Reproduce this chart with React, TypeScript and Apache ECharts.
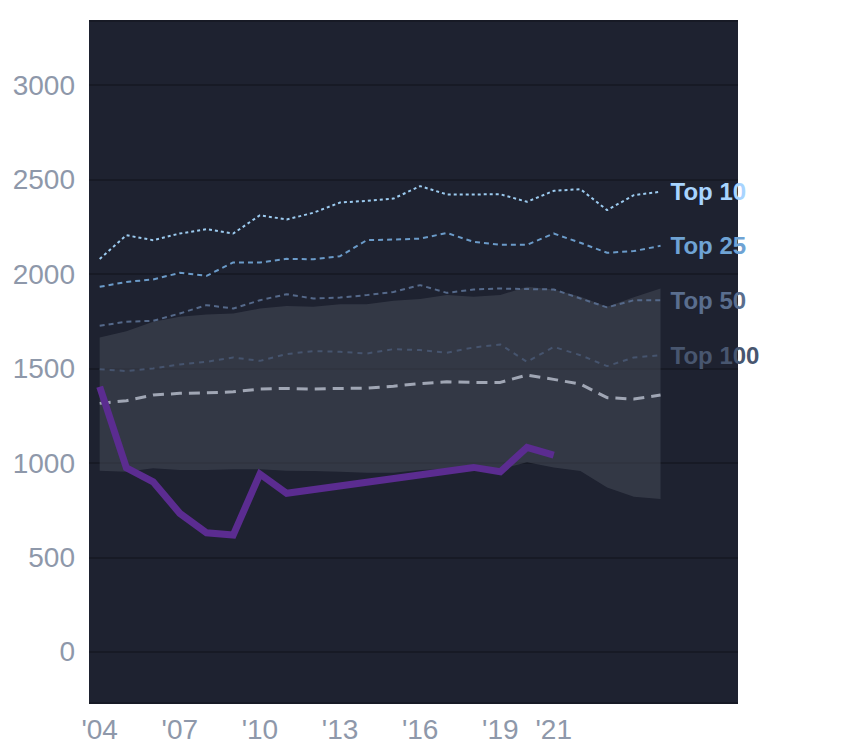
import React, { useEffect, useRef } from "react";
import * as echarts from "echarts";

const years = [2004, 2005, 2006, 2007, 2008, 2009, 2010, 2011, 2012, 2013, 2014, 2015, 2016, 2017, 2018, 2019, 2020, 2021, 2022, 2023, 2024, 2025];

const top10 = [2080, 2206, 2180, 2215, 2238, 2215, 2312, 2289, 2325, 2379, 2388, 2400, 2466, 2422, 2422, 2423, 2383, 2441, 2450, 2339, 2418, 2436];
const top25 = [1933, 1959, 1972, 2007, 1991, 2062, 2062, 2081, 2079, 2095, 2180, 2183, 2188, 2218, 2171, 2155, 2155, 2215, 2166, 2113, 2122, 2150];
const top50 = [1727, 1748, 1753, 1792, 1836, 1818, 1862, 1894, 1871, 1876, 1889, 1906, 1942, 1901, 1919, 1924, 1921, 1919, 1871, 1824, 1862, 1862];
const top100 = [1497, 1487, 1501, 1522, 1536, 1559, 1541, 1577, 1593, 1589, 1580, 1603, 1598, 1584, 1612, 1628, 1536, 1615, 1571, 1513, 1559, 1571];
const median = [1316, 1330, 1360, 1369, 1372, 1377, 1392, 1395, 1392, 1395, 1397, 1407, 1421, 1430, 1427, 1427, 1466, 1443, 1418, 1346, 1339, 1360];
const bandLow = [959, 954, 972, 963, 963, 967, 967, 959, 958, 954, 949, 949, 963, 968, 972, 968, 1004, 977, 958, 871, 822, 810];
const bandHigh = [1665, 1698, 1748, 1774, 1787, 1792, 1818, 1832, 1827, 1841, 1841, 1859, 1868, 1889, 1880, 1889, 1933, 1919, 1880, 1827, 1878, 1924];

const playerYears = [2004, 2005, 2006, 2007, 2008, 2009, 2010, 2011, 2018, 2019, 2020, 2021];
const playerValues = [1404, 975, 901, 734, 631, 619, 942, 840, 977, 954, 1083, 1042];

const xTickYears = [2004, 2007, 2010, 2013, 2016, 2019, 2021];

const FONT = "Liberation Sans, Arial, Helvetica, sans-serif";

function pairs(xs: number[], ys: number[]) {
  return xs.map((x, i) => [x, ys[i]]);
}

function refLine(name: string, values: number[], color: string, labelColor: string, dash: number[]) {
  return {
    name,
    type: "line",
    data: pairs(years, values),
    symbol: "none",
    clip: false,
    z: 3,
    lineStyle: { color, width: 2, type: dash },
    endLabel: {
      show: true,
      formatter: name,
      color: labelColor,
      fontSize: 24,
      fontWeight: "bold",
      fontFamily: FONT,
      distance: 10,
    },
  };
}

export default function App() {
  const ref = useRef<HTMLDivElement>(null);
  useEffect(() => {
    document.body.style.margin = "0";
    const chart = echarts.init(ref.current!, null, { renderer: "svg" });
    chart.setOption({
      animation: false,
      backgroundColor: "#ffffff",
      grid: {
        left: 89,
        right: 106,
        top: 21,
        bottom: 45,
        show: true,
        backgroundColor: "#1e2230",
        borderWidth: 0,
        containLabel: false,
      },
      xAxis: {
        type: "value",
        min: 2003.6,
        max: 2027.9,
        axisLine: { show: false },
        axisTick: { show: false },
        splitLine: { show: false },
        axisLabel: {
          customValues: xTickYears,
          formatter: (v: number) => "'" + String(v).slice(2),
          color: "#8e98aa",
          fontSize: 28,
          fontFamily: FONT,
          margin: 12,
        },
      },
      yAxis: {
        type: "value",
        min: -270,
        max: 3340,
        splitNumber: 7,
        axisLine: { show: false },
        axisTick: { show: false },
        splitLine: { show: true, lineStyle: { color: "#171a25", width: 2 } },
        axisLabel: {
          showMinLabel: false,
          showMaxLabel: false,
          formatter: (v: number) => String(v),
          color: "#8e98aa",
          fontSize: 28,
          fontFamily: FONT,
          margin: 14,
        },
      },
      series: [
        {
          name: "band",
          type: "custom",
          data: [[years[0], bandLow[0]]],
          silent: true,
          z: 1,
          renderItem: (params: any, api: any) => {
            const upper = years.map((y, i) => api.coord([y, bandHigh[i]]));
            const lower = years.map((y, i) => api.coord([y, bandLow[i]])).reverse();
            return {
              type: "polygon",
              shape: { points: upper.concat(lower) },
              style: { fill: "rgba(70,74,87,0.55)" },
            };
          },
        },
        refLine("Top 10", top10, "#9ccbf0", "#a8d4ff", [3, 3]),
        refLine("Top 25", top25, "#6b9bc9", "#6fa3d4", [5, 4]),
        refLine("Top 50", top50, "#55698a", "#5a6e8e", [5, 4]),
        refLine("Top 100", top100, "#46546e", "#48566f", [5, 5]),
        {
          name: "median",
          type: "line",
          data: pairs(years, median),
          symbol: "none",
          z: 3,
          lineStyle: { color: "#a0a6b4", width: 3, type: [11, 7] },
        },
        {
          name: "player",
          type: "line",
          data: pairs(playerYears, playerValues),
          symbol: "none",
          z: 4,
          lineStyle: { color: "#5b2c90", width: 7, join: "miter" },
        },
      ],
    });
    return () => chart.dispose();
  }, []);
  return <div ref={ref} style={{ width: 844, height: 748 }} />;
}
